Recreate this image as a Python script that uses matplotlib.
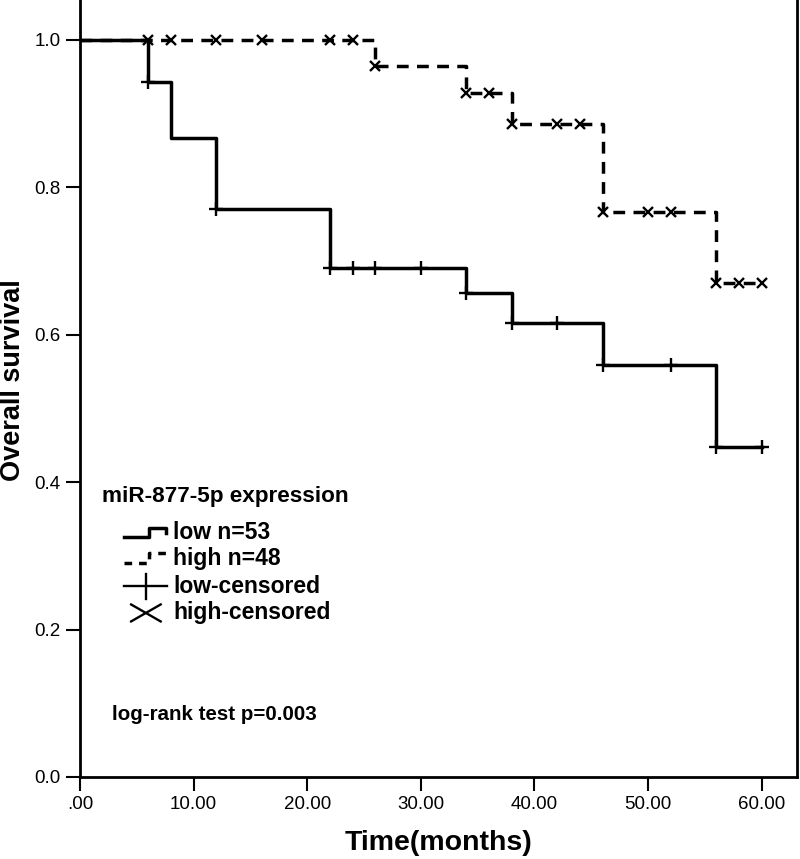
import numpy as np
import matplotlib
matplotlib.use("Agg")
import matplotlib.pyplot as plt

plt.rcParams['font.family'] = ['Liberation Sans', 'DejaVu Sans']

# Kaplan-Meier steps
low_t = [0, 6, 8, 12, 22, 34, 38, 46, 56, 60]
low_s = [1.0, 0.943, 0.867, 0.770, 0.691, 0.657, 0.616, 0.559, 0.448, 0.448]
low_cens = [6, 12, 22, 24, 26, 30, 34, 38, 42, 46, 52, 56, 60]

high_t = [0, 26, 34, 38, 46, 56, 60]
high_s = [1.0, 0.964, 0.928, 0.886, 0.767, 0.670, 0.670]
high_cens = [6, 8, 12, 16, 22, 24, 26, 34, 36, 38, 42, 44, 46, 50, 52, 56, 58, 60]

xticks = [0, 10, 20, 30, 40, 50, 60]
xlabels = ['.00', '10.00', '20.00', '30.00', '40.00', '50.00', '60.00']
yticks = [0.0, 0.2, 0.4, 0.6, 0.8, 1.0]
ylabels = ['0.0', '0.2', '0.4', '0.6', '0.8', '1.0']


def at(ts, ss, cens):
    idx = np.searchsorted(ts, cens, side='right') - 1
    return np.array(ss)[idx]


fig = plt.figure(figsize=(8, 8.59), dpi=100)
ax = fig.add_axes([0.1, 0.0955, 0.896, 0.9045])

ax.plot(low_t, low_s, drawstyle='steps-post', color='black', lw=2.5)
ax.plot(high_t, high_s, drawstyle='steps-post', color='black', lw=2.5,
        dashes=(3.4, 2.4))
ax.plot(low_cens, at(low_t, low_s, low_cens), '+', color='black', ms=10, mew=1.7)
ax.plot(high_cens, at(high_t, high_s, high_cens), 'x', color='black', ms=7.5, mew=1.7)

ax.set_xlim(0, 63.1)
ax.set_ylim(0, 1.054)
ax.set_xticks(xticks)
ax.set_xticklabels(xlabels)
ax.set_yticks(yticks)
ax.set_yticklabels(ylabels)
ax.tick_params(direction='out', length=10, width=1.5, labelsize=13.5, pad=4)
ax.spines['top'].set_visible(False)
for s in ['left', 'bottom', 'right']:
    ax.spines[s].set_linewidth(2)

ax.set_xlabel('Time(months)', fontsize=20.5, fontweight='bold', labelpad=12)
# y label placed in figure pixels so it is not clipped
fig.text(13 / 800, 1 - 380 / 859, 'Overall survival', fontsize=19.5, fontweight='bold',
         rotation=90, ha='center', va='center')

# legend drawn by hand (SPSS style)
ax.text(1.9, 0.380, 'miR-877-5p expression', fontsize=16.2, fontweight='bold', va='center')
ax.plot([3.9, 6.1, 6.1, 7.6, 7.6], [0.326, 0.326, 0.338, 0.338, 0.331],
        color='black', lw=2.5)
ax.text(8.2, 0.331, 'low n=53', fontsize=16.5, fontweight='bold', va='center')
ax.plot([3.9, 6.1, 6.1, 7.6, 7.6], [0.290, 0.290, 0.304, 0.304, 0.298],
        color='black', lw=2.5, dashes=(2.2, 2.0))
ax.text(8.2, 0.297, 'high n=48', fontsize=16.5, fontweight='bold', va='center')
ax.plot([3.9, 7.7], [0.259, 0.259], color='black', lw=1.7)
ax.plot([5.8, 5.8], [0.242, 0.276], color='black', lw=1.7)
ax.text(8.2, 0.259, 'low-censored', fontsize=16.5, fontweight='bold', va='center')
ax.plot([4.5, 7.1], [0.234, 0.211], color='black', lw=1.7)
ax.plot([4.5, 7.1], [0.211, 0.234], color='black', lw=1.7)
ax.text(8.2, 0.2225, 'high-censored', fontsize=16.5, fontweight='bold', va='center')

ax.text(2.8, 0.085, 'log-rank test p=0.003', fontsize=14.8, fontweight='bold', va='center')

fig.savefig('out.png', dpi=100)
